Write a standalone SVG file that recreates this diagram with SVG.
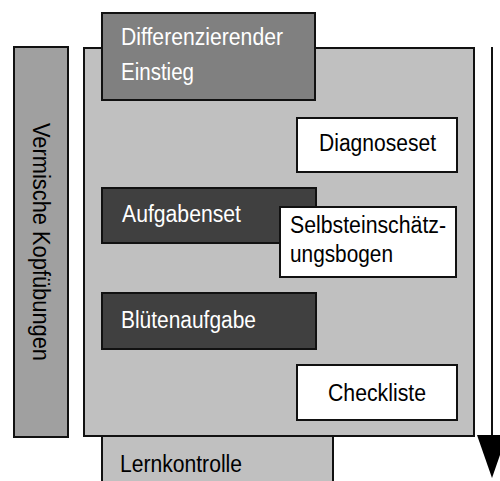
<svg xmlns="http://www.w3.org/2000/svg" width="500" height="481" viewBox="0 0 500 481">
<style>
.box{stroke:#111;stroke-width:2}
.t{font-family:"Liberation Sans",Arial,sans-serif;font-size:23px}
.w{fill:#fff}
.k{fill:#000}
</style>
<rect x="0" y="0" width="500" height="481" fill="#fff"/>
<g id="main">
<rect class="box" x="84" y="48" width="390" height="388" fill="#c0c0c0"/>
</g>
<g id="lernkontrolle">
<rect class="box" x="102" y="436" width="231" height="60" fill="#c0c0c0"/>
<text class="t k" x="120" y="472" textLength="122" lengthAdjust="spacingAndGlyphs">Lernkontrolle</text>
</g>
<g id="kopfuebungen">
<rect class="box" x="14" y="47" width="54" height="390" fill="#a0a0a0"/>
<text class="t k" transform="translate(33,123) rotate(90)" textLength="238" lengthAdjust="spacingAndGlyphs">Vermische Kopfübungen</text>
</g>
<g id="einstieg">
<rect class="box" x="102" y="13" width="213" height="87" fill="#808080"/>
<text class="t w" x="121" y="45" textLength="162" lengthAdjust="spacingAndGlyphs">Differenzierender</text>
<text class="t w" x="121" y="80" textLength="73" lengthAdjust="spacingAndGlyphs">Einstieg</text>
</g>
<g id="diagnoseset">
<rect class="box" x="297" y="118" width="160" height="54" fill="#fff"/>
<text class="t k" x="319" y="151" textLength="117" lengthAdjust="spacingAndGlyphs">Diagnoseset</text>
</g>
<g id="aufgabenset">
<rect class="box" x="102" y="188" width="214" height="55" fill="#404040"/>
<text class="t w" x="122" y="222" textLength="119" lengthAdjust="spacingAndGlyphs">Aufgabenset</text>
</g>
<g id="selbsteinschaetzungsbogen">
<rect class="box" x="280" y="207" width="176" height="70" fill="#fff"/>
<text class="t k" x="290" y="233" textLength="156" lengthAdjust="spacingAndGlyphs">Selbsteinschätz-</text>
<text class="t k" x="290" y="262" textLength="103" lengthAdjust="spacingAndGlyphs">ungsbogen</text>
</g>
<g id="bluetenaufgabe">
<rect class="box" x="102" y="293" width="214" height="56" fill="#404040"/>
<text class="t w" x="121" y="328" textLength="135" lengthAdjust="spacingAndGlyphs">Blütenaufgabe</text>
</g>
<g id="checkliste">
<rect class="box" x="297" y="365" width="160" height="55" fill="#fff"/>
<text class="t k" x="328" y="401" textLength="98" lengthAdjust="spacingAndGlyphs">Checkliste</text>
</g>
<g id="connectors">
<line x1="492" y1="47" x2="492" y2="437" stroke="#111" stroke-width="2"/>
<polygon points="477,435 507,435 492,478" fill="#000"/>
</g>
</svg>
